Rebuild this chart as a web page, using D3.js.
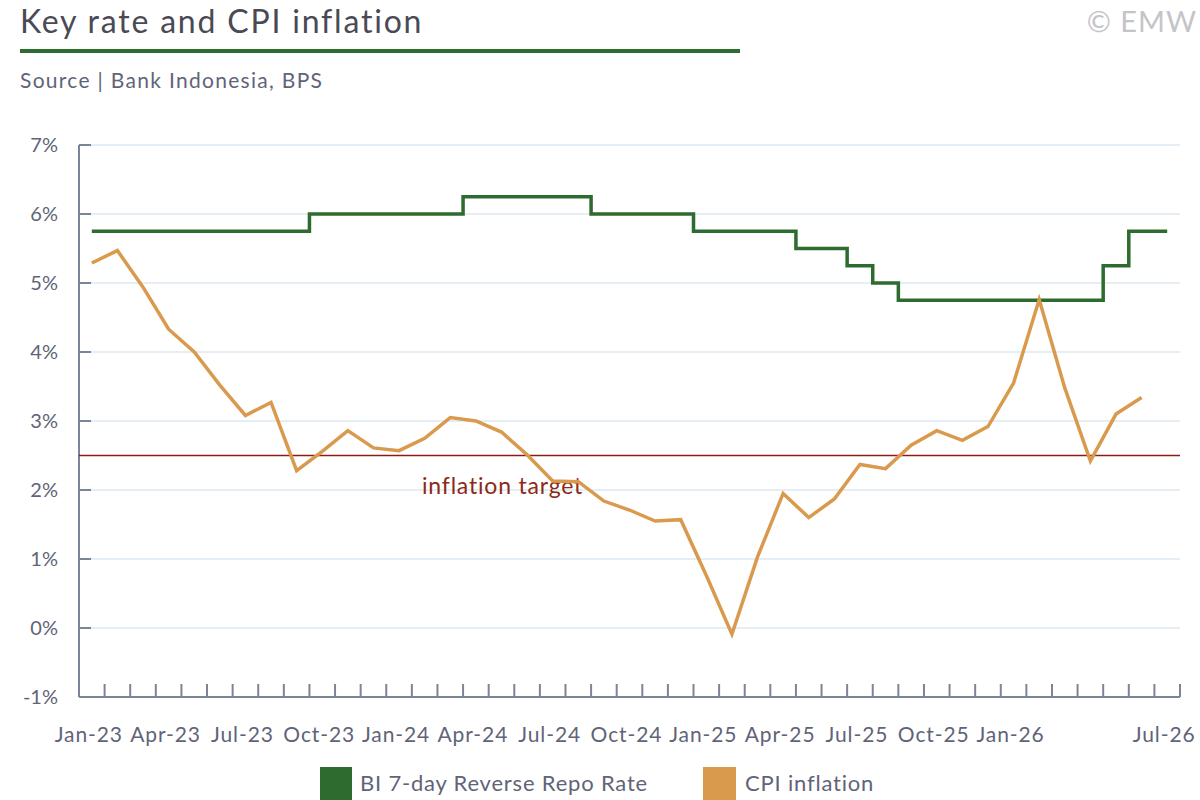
<!DOCTYPE html>
<html><head><meta charset="utf-8">
<script src="https://cdn.jsdelivr.net/npm/d3@7"></script>
<style>body{margin:0;background:#fff;} svg text{font-family:Lato,"Open Sans",sans-serif;}</style>
</head><body><svg id="c" width="1200" height="800"></svg>
<script>
const months = [];
const mn = ["Jan","Feb","Mar","Apr","May","Jun","Jul","Aug","Sep","Oct","Nov","Dec"];
for (let y = 23; y <= 26; y++) for (let m = 0; m < 12; m++) { if (y === 26 && m > 6) break; months.push(mn[m] + "-" + y); }
const rate = [5.75,5.75,5.75,5.75,5.75,5.75,5.75,5.75,5.75,6,6,6,6,6,6,6.25,6.25,6.25,6.25,6.25,6,6,6,6,5.75,5.75,5.75,5.75,5.5,5.5,5.25,5,4.75,4.75,4.75,4.75,4.75,4.75,4.75,4.75,5.25,5.75,5.75];
const cpi = [5.29,5.47,4.94,4.33,4.0,3.52,3.08,3.27,2.28,2.56,2.86,2.61,2.57,2.75,3.05,3.0,2.84,2.51,2.13,2.12,1.84,1.71,1.55,1.57,0.76,-0.09,1.03,1.95,1.6,1.87,2.37,2.31,2.65,2.86,2.72,2.92,3.55,4.76,3.48,2.42,3.1,3.34,null];
const yTicks = [-1,0,1,2,3,4,5,6,7];
const labelMonths = ["Jan-23","Apr-23","Jul-23","Oct-23","Jan-24","Apr-24","Jul-24","Oct-24","Jan-25","Apr-25","Jul-25","Oct-25","Jan-26","Jul-26"];
const target = 2.5;

const svg = d3.select("#c");
const L = 79, R = 1180, T = 145, B = 697;
const x = d3.scaleBand().domain(months).range([L, R]);
const y = d3.scaleLinear().domain([-1, 7]).range([B, T]);
const cx = d => x(d) + x.bandwidth() / 2;
const txt = "#5f6478", ax = "#7a8599";

svg.append("text").attr("x", 20).attr("y", 33).attr("font-size", 32).attr("letter-spacing", 1.8).attr("fill", "#4a4a55").text("Key rate and CPI inflation");
svg.append("rect").attr("x", 20).attr("y", 49).attr("width", 720).attr("height", 4).attr("fill", "#2e6b2e");
svg.append("text").attr("x", 20).attr("y", 88).attr("font-size", 21).attr("letter-spacing", 1.3).attr("fill", txt).text("Source | Bank Indonesia, BPS");
svg.append("text").attr("x", 1197).attr("y", 32).attr("text-anchor", "end").attr("font-size", 29).attr("letter-spacing", 1).attr("fill", "#c4c4c8").text("© EMW");

yTicks.forEach(t => {
  if (t > -1) svg.append("line").attr("x1", L).attr("x2", R).attr("y1", y(t)).attr("y2", y(t)).attr("stroke", "#dde7f2").attr("stroke-width", 1.5);
  svg.append("line").attr("x1", L).attr("x2", L + 12).attr("y1", y(t)).attr("y2", y(t)).attr("stroke", ax).attr("stroke-width", 2);
  svg.append("text").attr("x", 58).attr("y", y(t) + 7).attr("text-anchor", "end").attr("font-size", 20).attr("fill", txt).text(t + "%");
});
svg.append("line").attr("x1", L).attr("x2", L).attr("y1", T).attr("y2", B).attr("stroke", ax).attr("stroke-width", 2);
svg.append("line").attr("x1", L).attr("x2", R).attr("y1", B).attr("y2", B).attr("stroke", ax).attr("stroke-width", 2);
months.forEach((m, i) => {
  const xx = x(m) + x.bandwidth();
  svg.append("line").attr("x1", xx).attr("x2", xx).attr("y1", B).attr("y2", B - 13).attr("stroke", ax).attr("stroke-width", 2);
});
labelMonths.forEach(m => {
  svg.append("text").attr("x", cx(m) - 3).attr("y", 742).attr("text-anchor", "middle").attr("font-size", 21).attr("letter-spacing", 0.9).attr("fill", txt).text(m);
});

svg.append("line").attr("x1", L).attr("x2", R).attr("y1", y(target)).attr("y2", y(target)).attr("stroke", "#8b1c12").attr("stroke-width", 1.5);
svg.append("text").attr("x", 422).attr("y", 494).attr("font-size", 23).attr("letter-spacing", 0.8).attr("fill", "#8b2a1a").text("inflation target");

svg.append("path").datum(months.map((m, i) => [cx(m), y(rate[i])]))
  .attr("d", d3.line().curve(d3.curveStep)).attr("fill", "none").attr("stroke", "#2e6b2e").attr("stroke-width", 3.5);
svg.append("path").datum(months.map((m, i) => [cx(m), cpi[i]]).filter(d => d[1] != null).map(d => [d[0], y(d[1])]))
  .attr("d", d3.line()).attr("fill", "none").attr("stroke", "#d99a4e").attr("stroke-width", 3.5);

svg.append("rect").attr("x", 320).attr("y", 767).attr("width", 32).attr("height", 33).attr("fill", "#2e6b2e");
svg.append("text").attr("x", 360).attr("y", 791).attr("font-size", 22).attr("letter-spacing", 0.8).attr("fill", txt).text("BI 7-day Reverse Repo Rate");
svg.append("rect").attr("x", 703).attr("y", 767).attr("width", 33).attr("height", 33).attr("fill", "#d99a4e");
svg.append("text").attr("x", 745).attr("y", 791).attr("font-size", 22).attr("letter-spacing", 0.8).attr("fill", txt).text("CPI inflation");
</script></body></html>
